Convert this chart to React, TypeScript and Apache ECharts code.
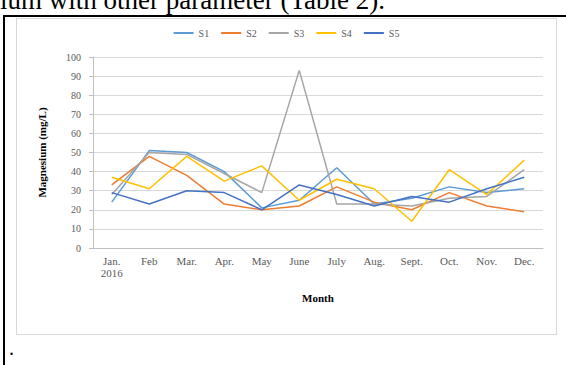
import React, { useEffect, useRef } from "react";
import * as echarts from "echarts";

// Monthly magnesium concentration (mg/L) at five sampling stations
const months = ["Jan.\n2016", "Feb", "Mar.", "Apr.", "May", "June", "July", "Aug.", "Sept.", "Oct.", "Nov.", "Dec."];
const s1 = [24, 51, 50, 40, 21, 25, 42, 23, 26, 32, 29, 31];
const s2 = [33, 48, 38, 23, 20, 22, 32, 24, 20, 29, 22, 19];
const s3 = [28, 50, 49, 39, 29, 93, 23, 23, 22, 26, 27, 41];
const s4 = [37, 31, 48, 35, 43, 25, 36, 31, 14, 41, 28, 46];
const s5 = [29, 23, 30, 29, 20, 33, 28, 22, 27, 24, 31, 37];
const yTicks = [0, 10, 20, 30, 40, 50, 60, 70, 80, 90, 100];

const seriesList = [
  { name: "S1", data: s1, color: "#5B9BD5" },
  { name: "S2", data: s2, color: "#ED7D31" },
  { name: "S3", data: s3, color: "#A5A5A5" },
  { name: "S4", data: s4, color: "#FFC000" },
  { name: "S5", data: s5, color: "#4472C4" },
];

const serif = "'Liberation Serif', 'Times New Roman', serif";

function MagnesiumChart() {
  const ref = useRef<HTMLDivElement>(null);
  useEffect(() => {
    if (!ref.current) return;
    const chart = echarts.init(ref.current, null, { renderer: "svg" });
    chart.setOption({
      animation: false,
      textStyle: { fontFamily: serif },
      legend: {
        top: 5,
        left: "center",
        itemWidth: 20,
        itemHeight: 2,
        itemGap: 12,
        icon: "rect",
        textStyle: { fontFamily: serif, fontSize: 10, color: "#595959" },
        data: seriesList.map((s) => s.name),
      },
      grid: { left: 77, right: 14, top: 39, bottom: 87 },
      xAxis: {
        type: "category",
        data: months,
        boundaryGap: true,
        name: "Month",
        nameLocation: "middle",
        nameGap: 44,
        nameTextStyle: { fontFamily: serif, fontSize: 11, fontWeight: "bold", color: "#000" },
        axisLine: { lineStyle: { color: "#bfbfbf" } },
        axisTick: { alignWithLabel: false, length: 4, lineStyle: { color: "#bfbfbf" } },
        axisLabel: { fontFamily: serif, fontSize: 11, color: "#595959", margin: 7, interval: 0, lineHeight: 12 },
      },
      yAxis: {
        type: "value",
        min: 0,
        max: 100,
        interval: 10,
        name: "Magnesium (mg/L)",
        nameLocation: "middle",
        nameGap: 46,
        nameTextStyle: { fontFamily: serif, fontSize: 11, fontWeight: "bold", color: "#000" },
        axisLine: { show: true, lineStyle: { color: "#bfbfbf" } },
        axisTick: { show: true, length: 4, lineStyle: { color: "#bfbfbf" } },
        axisLabel: {
          fontFamily: serif,
          fontSize: 10,
          color: "#595959",
          margin: 12,
          formatter: (v: number) => (yTicks.includes(v) ? String(v) : ""),
        },
        splitLine: { lineStyle: { color: "#d9d9d9" } },
      },
      series: seriesList.map((s) => ({
        name: s.name,
        type: "line",
        data: s.data,
        showSymbol: false,
        symbol: "none",
        color: s.color,
        lineStyle: { width: 1.5, color: s.color },
      })),
    });
    return () => chart.dispose();
  }, []);
  return <div ref={ref} style={{ width: 541, height: 317 }} />;
}

export default function App() {
  return (
    <div style={{ position: "absolute", left: 0, top: 0, width: 566, height: 365, overflow: "hidden", background: "#fff" }}>
      <div
        style={{
          position: "absolute",
          left: 0,
          top: -13,
          fontFamily: serif,
          fontSize: 27,
          lineHeight: "27px",
          whiteSpace: "nowrap",
          color: "#000",
        }}
      >
        ium with other parameter (Table 2).
      </div>
      <div style={{ position: "absolute", left: 3, top: 15, width: 563, height: 2, background: "#000" }} />
      <div style={{ position: "absolute", left: 3, top: 15, width: 2, height: 350, background: "#000" }} />
      <div
        style={{
          position: "absolute",
          left: 16,
          top: 18,
          width: 541,
          height: 317,
          border: "1px solid #d9d9d9",
          boxSizing: "border-box",
        }}
      >
        <div style={{ position: "absolute", left: -1, top: -1 }}>
          <MagnesiumChart />
        </div>
      </div>
      <div style={{ position: "absolute", left: 9, top: 338, fontFamily: serif, fontSize: 20, lineHeight: "20px" }}>.</div>
    </div>
  );
}
